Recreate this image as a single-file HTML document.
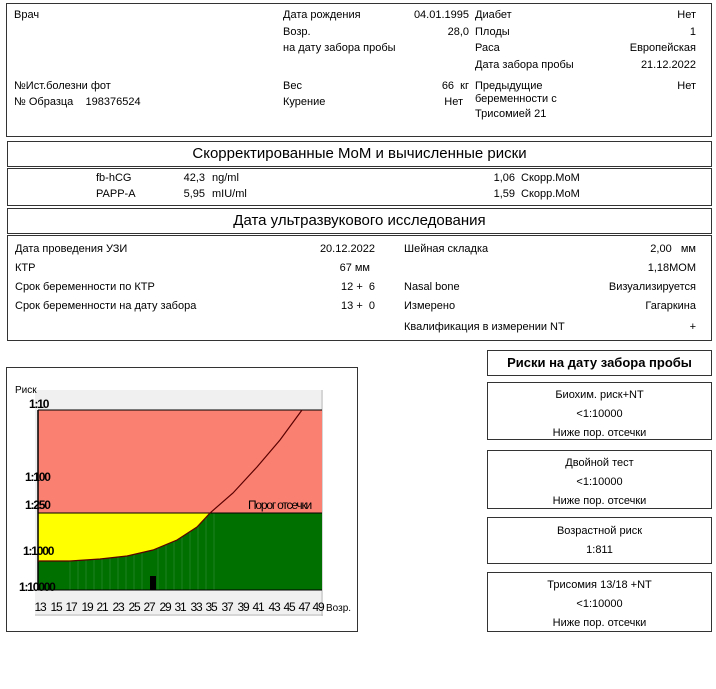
<!DOCTYPE html>
<html><head><meta charset="utf-8"><style>
body{margin:0;width:716px;height:689px;background:#fff;font-family:"Liberation Sans",sans-serif;font-size:11px;color:#000;position:relative;overflow:hidden}
.a{position:absolute;white-space:nowrap}
.b{position:absolute;border:1px solid #333;box-sizing:border-box}
.r{text-align:right}
.c{text-align:center}
</style></head><body>
<div class="b" style="left:6px;top:3px;width:706px;height:134px"></div>
<div class="a" style="left:14px;top:9px">Врач</div>
<div class="a" style="left:283px;top:9px">Дата рождения</div>
<div class="a r" style="left:380px;top:9px;width:89px">04.01.1995</div>
<div class="a" style="left:475px;top:9px">Диабет</div>
<div class="a r" style="left:600px;top:9px;width:96px">Нет</div>
<div class="a" style="left:283px;top:26px">Возр.</div>
<div class="a r" style="left:380px;top:26px;width:89px">28,0</div>
<div class="a" style="left:475px;top:26px">Плоды</div>
<div class="a r" style="left:600px;top:26px;width:96px">1</div>
<div class="a" style="left:283px;top:42px">на дату забора пробы</div>
<div class="a" style="left:475px;top:42px">Раса</div>
<div class="a r" style="left:600px;top:42px;width:96px">Европейская</div>
<div class="a" style="left:475px;top:59px">Дата забора пробы</div>
<div class="a r" style="left:600px;top:59px;width:96px">21.12.2022</div>
<div class="a" style="left:14px;top:80px">№Ист.болезни фот</div>
<div class="a" style="left:283px;top:80px">Вес</div>
<div class="a r" style="left:380px;top:80px;width:89px">66 &nbsp;кг</div>
<div class="a" style="left:475px;top:80px">Предыдущие</div>
<div class="a r" style="left:600px;top:80px;width:96px">Нет</div>
<div class="a" style="left:14px;top:96px">№ Образца &nbsp;&nbsp;&nbsp;198376524</div>
<div class="a" style="left:283px;top:96px">Курение</div>
<div class="a r" style="left:380px;top:96px;width:83px">Нет</div>
<div class="a" style="left:475px;top:93px">беременности с</div>
<div class="a" style="left:475px;top:108px">Трисомией 21</div>

<div class="b" style="left:7px;top:141px;width:705px;height:26px"></div>
<div class="a c" style="left:7px;top:145px;width:705px;font-size:15px">Скорректированные MoM и вычисленные риски</div>
<div class="b" style="left:7px;top:168px;width:705px;height:38px"></div>
<div class="a" style="left:96px;top:172px">fb-hCG</div>
<div class="a r" style="left:160px;top:172px;width:45px">42,3</div>
<div class="a" style="left:212px;top:172px">ng/ml</div>
<div class="a r" style="left:470px;top:172px;width:45px">1,06</div>
<div class="a" style="left:521px;top:172px">Скорр.MoM</div>
<div class="a" style="left:96px;top:188px">PAPP-A</div>
<div class="a r" style="left:160px;top:188px;width:45px">5,95</div>
<div class="a" style="left:212px;top:188px">mIU/ml</div>
<div class="a r" style="left:470px;top:188px;width:45px">1,59</div>
<div class="a" style="left:521px;top:188px">Скорр.MoM</div>

<div class="b" style="left:7px;top:208px;width:705px;height:26px"></div>
<div class="a c" style="left:7px;top:212px;width:705px;font-size:15px">Дата ультразвукового исследования</div>
<div class="b" style="left:7px;top:235px;width:705px;height:106px"></div>
<div class="a" style="left:15px;top:243px">Дата проведения УЗИ</div>
<div class="a r" style="left:300px;top:243px;width:75px">20.12.2022</div>
<div class="a" style="left:404px;top:243px">Шейная складка</div>
<div class="a r" style="left:600px;top:243px;width:96px">2,00 &nbsp;&nbsp;мм</div>
<div class="a" style="left:15px;top:262px">КТР</div>
<div class="a r" style="left:300px;top:262px;width:70px">67 мм</div>
<div class="a r" style="left:600px;top:262px;width:96px">1,18MOM</div>
<div class="a" style="left:15px;top:281px">Срок беременности по КТР</div>
<div class="a r" style="left:300px;top:281px;width:75px">12 + &nbsp;6</div>
<div class="a" style="left:404px;top:281px">Nasal bone</div>
<div class="a r" style="left:560px;top:281px;width:136px">Визуализируется</div>
<div class="a" style="left:15px;top:300px">Срок беременности на дату забора</div>
<div class="a r" style="left:300px;top:300px;width:75px">13 + &nbsp;0</div>
<div class="a" style="left:404px;top:300px">Измерено</div>
<div class="a r" style="left:600px;top:300px;width:96px">Гагаркина</div>
<div class="a" style="left:404px;top:321px">Квалификация в измерении NT</div>
<div class="a r" style="left:600px;top:321px;width:96px">+</div>

<div class="b" style="left:487px;top:350px;width:225px;height:26px"></div>
<div class="a c" style="left:487px;top:355px;width:225px;font-size:13px;font-weight:bold">Риски на дату забора пробы</div>
<div class="b" style="left:487px;top:382px;width:225px;height:58px"></div>
<div class="a c" style="left:487px;top:386px;width:225px;line-height:19px">Биохим. риск+NT<br>&lt;1:10000<br>Ниже пор. отсечки</div>
<div class="b" style="left:487px;top:450px;width:225px;height:59px"></div>
<div class="a c" style="left:487px;top:454px;width:225px;line-height:19px">Двойной тест<br>&lt;1:10000<br>Ниже пор. отсечки</div>
<div class="b" style="left:487px;top:517px;width:225px;height:47px"></div>
<div class="a c" style="left:487px;top:522px;width:225px;line-height:19px">Возрастной риск<br>1:811</div>
<div class="b" style="left:487px;top:572px;width:225px;height:60px"></div>
<div class="a c" style="left:487px;top:576px;width:225px;line-height:19px">Трисомия 13/18 +NT<br>&lt;1:10000<br>Ниже пор. отсечки</div>

<div class="b" style="left:6px;top:367px;width:352px;height:265px"></div>
<svg class="a" style="left:0;top:0" width="716" height="689" font-family="Liberation Sans, sans-serif">
<rect x="35" y="390" width="288" height="226" fill="#f0f0f0"/>
<line x1="322" y1="390" x2="322" y2="616" stroke="#bbb"/>
<line x1="35" y1="615" x2="323" y2="615" stroke="#bbb"/>
<rect x="38" y="410" width="284" height="103" fill="#fa8072"/>
<rect x="38" y="513" width="284" height="77" fill="#007000"/>
<path d="M38,561 L70,561 L100,559 L127,556 L153,550 L177,540 L197,527 L210,513 L38,513 Z" fill="#ffff00"/>
<g stroke="#1f7f1f" stroke-width="1">
<line x1="70" y1="561" x2="70" y2="590"/><line x1="78" y1="561" x2="78" y2="590"/><line x1="86" y1="560" x2="86" y2="590"/><line x1="94" y1="560" x2="94" y2="590"/><line x1="102" y1="559" x2="102" y2="590"/><line x1="110" y1="558" x2="110" y2="590"/><line x1="118" y1="557" x2="118" y2="590"/><line x1="126" y1="556" x2="126" y2="590"/><line x1="134" y1="554" x2="134" y2="590"/><line x1="142" y1="553" x2="142" y2="590"/><line x1="158" y1="548" x2="158" y2="590"/><line x1="166" y1="545" x2="166" y2="590"/><line x1="174" y1="542" x2="174" y2="590"/><line x1="182" y1="537" x2="182" y2="590"/><line x1="190" y1="532" x2="190" y2="590"/><line x1="198" y1="526" x2="198" y2="590"/><line x1="206" y1="518" x2="206" y2="590"/><line x1="214" y1="513" x2="214" y2="590"/>
</g>
<line x1="38" y1="410" x2="322" y2="410" stroke="#000"/>
<line x1="38" y1="513" x2="322" y2="513" stroke="#000"/>
<line x1="38" y1="410" x2="38" y2="590" stroke="#000" stroke-width="1.5"/>
<line x1="38" y1="590" x2="322" y2="590" stroke="#000"/>
<polyline points="38,561 70,561 100,559 127,556 153,550 177,540 197,527 210,513 233,493 257,467 280,440 302,410" fill="none" stroke="#5a0000" stroke-width="1.2"/>
<rect x="150" y="576" width="6" height="14" fill="#000"/>
<text x="15" y="393" font-size="10">Риск</text>
<g font-size="12" font-weight="bold" letter-spacing="-1.2">
<text x="29" y="408">1:10</text>
<text x="25" y="481">1:100</text>
<text x="25" y="509">1:250</text>
<text x="23" y="555">1:1000</text>
<text x="19" y="591">1:10000</text>
</g>
<text x="248" y="509" font-size="12" letter-spacing="-1.2">Порог отсечки</text>
<g font-size="12" letter-spacing="-1.2" text-anchor="middle">
<text x="40" y="611">13</text><text x="56" y="611">15</text><text x="71" y="611">17</text><text x="87" y="611">19</text><text x="102" y="611">21</text><text x="118" y="611">23</text><text x="134" y="611">25</text><text x="149" y="611">27</text><text x="165" y="611">29</text><text x="180" y="611">31</text><text x="196" y="611">33</text><text x="211" y="611">35</text><text x="227" y="611">37</text><text x="243" y="611">39</text><text x="258" y="611">41</text><text x="274" y="611">43</text><text x="289" y="611">45</text><text x="304" y="611">47</text><text x="318" y="611">49</text>
</g>
<text x="326" y="611" font-size="10">Возр.</text>
</svg>
</body></html>
